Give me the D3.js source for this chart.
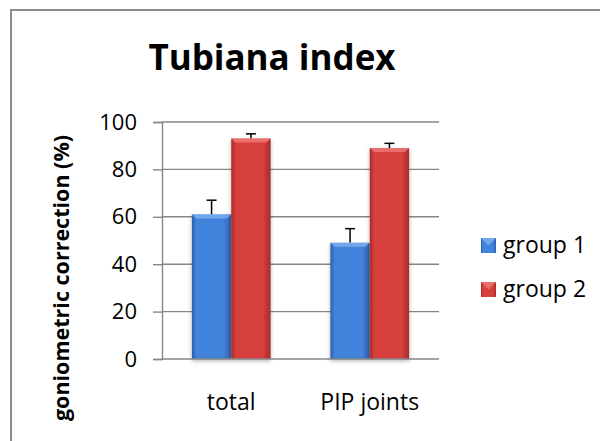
<!DOCTYPE html>
<html>
<head>
<meta charset="utf-8">
<script src="https://cdn.jsdelivr.net/npm/d3@7"></script>
<style>
  body { margin: 0; background: #fff; }
  text { font-family: "Open Sans", Lato, sans-serif; fill: #000; }
</style>
</head>
<body>
<div id="chart"></div>
<script>
const width = 600;
const height = 441;

const categories = ["total", "PIP joints"];
const groups = ["group 1", "group 2"];
const group1 = [61, 49];
const group2 = [93, 89];
const group1Err = [6, 6];
const group2Err = [2, 2];
const yTicks = [0, 20, 40, 60, 80, 100];

const groupColors = {
  "group 1": { mid: "#4384dc", edge: "#2c5fae", top: "#7fb0f0" },
  "group 2": { mid: "#d8403d", edge: "#a62b29", top: "#ee7b78" },
};

const plot = { left: 162, right: 439, top: 122, bottom: 359 };

const svg = d3.select("#chart")
  .append("svg")
  .attr("width", width)
  .attr("height", height);

const defs = svg.append("defs");

groups.forEach((name, i) => {
  const c = groupColors[name];
  const grad = defs.append("linearGradient")
    .attr("id", `bar-grad-${i}`)
    .attr("x1", "0%").attr("x2", "100%");
  grad.append("stop").attr("offset", "0%").attr("stop-color", c.edge);
  grad.append("stop").attr("offset", "12%").attr("stop-color", c.mid);
  grad.append("stop").attr("offset", "80%").attr("stop-color", c.mid);
  grad.append("stop").attr("offset", "100%").attr("stop-color", c.edge);
});

const shadow = defs.append("filter").attr("id", "shadow")
  .attr("x", "-20%").attr("y", "-10%").attr("width", "140%").attr("height", "120%");
shadow.append("feDropShadow")
  .attr("dx", 0).attr("dy", 2).attr("stdDeviation", 2)
  .attr("flood-color", "#000").attr("flood-opacity", 0.3);

// outer frame (only left and top edges are in view)
svg.append("path")
  .attr("d", `M11,${height} V10 H${width}`)
  .attr("fill", "none")
  .attr("stroke", "#8c8c8c")
  .attr("stroke-width", 2);

const x0 = d3.scaleBand()
  .domain(categories)
  .range([plot.left, plot.right])
  .paddingInner(60 / 139)
  .paddingOuter(30 / 139);

const x1 = d3.scaleBand()
  .domain(groups)
  .range([0, x0.bandwidth()]);

const y = d3.scaleLinear()
  .domain([0, 100])
  .range([plot.bottom, plot.top]);

// gridlines
svg.append("g")
  .selectAll("line")
  .data(yTicks.filter(t => t > 0))
  .join("line")
  .attr("x1", plot.left).attr("x2", plot.right)
  .attr("y1", d => y(d)).attr("y2", d => y(d))
  .attr("stroke", "#868686")
  .attr("stroke-width", 1.4);

// y axis
const yAxis = svg.append("g")
  .attr("transform", `translate(${plot.left},0)`)
  .call(d3.axisLeft(y).tickValues(yTicks).tickSize(9).tickPadding(16));
yAxis.select(".domain").attr("stroke", "#868686").attr("stroke-width", 1.4);
yAxis.selectAll(".tick line").attr("stroke", "#868686").attr("stroke-width", 1.4);
yAxis.selectAll(".tick text")
  .style("font-family", "'Open Sans', sans-serif")
  .style("font-size", "22px")
  .attr("fill", "#000");

const rows = categories.map((cat, i) => ({
  cat,
  values: [
    { group: "group 1", idx: 0, value: group1[i], err: group1Err[i] },
    { group: "group 2", idx: 1, value: group2[i], err: group2Err[i] },
  ],
}));

// error bars (drawn behind bars, only the upper half shows)
const catG = svg.append("g")
  .selectAll("g")
  .data(rows)
  .join("g")
  .attr("transform", d => `translate(${x0(d.cat)},0)`);

catG.selectAll(".err")
  .data(d => d.values)
  .join("g")
  .attr("class", "err")
  .each(function(d) {
    const g = d3.select(this);
    const cx = x1(d.group) + x1.bandwidth() / 2;
    g.append("line")
      .attr("x1", cx).attr("x2", cx)
      .attr("y1", y(d.value)).attr("y2", y(d.value + d.err))
      .attr("stroke", "#000").attr("stroke-width", 1.5);
    g.append("line")
      .attr("x1", cx - 5).attr("x2", cx + 5)
      .attr("y1", y(d.value + d.err)).attr("y2", y(d.value + d.err))
      .attr("stroke", "#000").attr("stroke-width", 1.5);
  });

const bars = catG.selectAll(".bar")
  .data(d => d.values)
  .join("g")
  .attr("class", "bar");

bars.append("rect")
  .attr("x", d => x1(d.group))
  .attr("y", d => y(d.value))
  .attr("width", x1.bandwidth())
  .attr("height", d => y(0) - y(d.value))
  .attr("fill", d => `url(#bar-grad-${d.idx})`)
  .attr("filter", "url(#shadow)");

// top bevel
bars.append("path")
  .attr("d", d => {
    const xl = x1(d.group), xr = xl + x1.bandwidth(), yt = y(d.value);
    return `M${xl},${yt} H${xr} L${xr - 4},${yt + 4} H${xl + 4} Z`;
  })
  .attr("fill", d => groupColors[d.group].top)
  .attr("opacity", 0.8);

// x axis line
svg.append("line")
  .attr("x1", plot.left).attr("x2", plot.right)
  .attr("y1", plot.bottom).attr("y2", plot.bottom)
  .attr("stroke", "#868686")
  .attr("stroke-width", 1.4);

// category labels
svg.append("g")
  .selectAll("text")
  .data(categories)
  .join("text")
  .attr("x", d => x0(d) + x0.bandwidth() / 2)
  .attr("y", 410)
  .attr("text-anchor", "middle")
  .style("font-size", "23px")
  .text(d => d);

// title
svg.append("text")
  .attr("x", 272)
  .attr("y", 70)
  .attr("text-anchor", "middle")
  .style("font-size", "35px")
  .style("font-weight", "bold")
  .text("Tubiana index");

// y axis title
svg.append("text")
  .attr("transform", "translate(69,278) rotate(-90)")
  .attr("text-anchor", "middle")
  .style("font-size", "21.5px")
  .style("font-weight", "bold")
  .text("goniometric correction (%)");

// legend
const legend = svg.append("g")
  .selectAll("g")
  .data(groups)
  .join("g")
  .attr("transform", (d, i) => `translate(481,${238 + i * 44})`);

legend.append("rect")
  .attr("width", 15).attr("height", 15)
  .attr("fill", (d, i) => `url(#bar-grad-${i})`);

legend.append("path")
  .attr("d", "M0,0 H15 L7.5,7.5 Z")
  .attr("fill", d => groupColors[d].top)
  .attr("opacity", 0.8);

legend.append("text")
  .attr("x", 22)
  .attr("y", 15)
  .style("font-size", "23px")
  .text(d => d);
</script>
</body>
</html>
